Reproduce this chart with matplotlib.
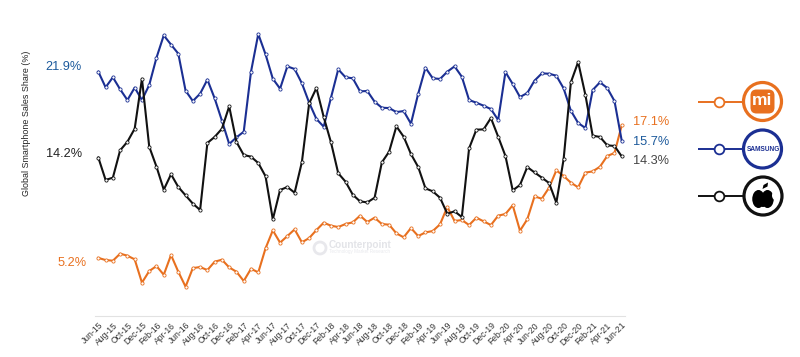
import matplotlib
matplotlib.use("Agg")
import matplotlib.pyplot as plt
from matplotlib.patches import Circle, Ellipse, FancyBboxPatch, Polygon

plt.rcParams['font.family'] = ['Liberation Sans', 'DejaVu Sans']

years = ["15", "16", "17", "18", "19", "20", "21"]
month_names = ["Jan", "Feb", "Mar", "Apr", "May", "Jun", "Jul", "Aug", "Sep", "Oct", "Nov", "Dec"]

samsung = [21.90, 20.50, 21.40, 20.32, 19.36, 20.47, 19.36, 20.71, 23.16, 25.16, 24.33, 23.52,
           20.20, 19.27, 19.93, 21.19, 19.51, 17.51, 15.42, 16.01, 16.52, 21.90, 25.28, 23.46,
           21.27, 20.38, 22.38, 22.14, 20.86, 19.12, 17.66, 16.97, 19.57, 22.11, 21.40, 21.31,
           20.14, 20.17, 19.21, 18.67, 18.64, 18.28, 18.37, 17.24, 19.93, 22.26, 21.31, 21.25,
           21.90, 22.38, 21.45, 19.36, 19.12, 18.85, 18.55, 17.57, 21.87, 20.80, 19.63, 19.99,
           21.10, 21.75, 21.72, 21.54, 20.41, 18.40, 17.30, 16.85, 20.26, 20.95, 20.44, 19.27,
           15.70]
apple = [14.20, 12.19, 12.40, 14.85, 15.62, 16.79, 21.27, 15.18, 13.38, 11.32, 12.70, 11.56,
         10.81, 10.07, 9.50, 15.51, 16.05, 16.79, 18.79, 15.60, 14.43, 14.28, 13.71, 12.52,
         8.66, 11.29, 11.56, 11.05, 13.80, 19.06, 20.44, 17.84, 15.57, 12.79, 12.04, 10.87,
         10.27, 10.18, 10.60, 13.77, 14.73, 17.00, 16.07, 14.52, 13.35, 11.44, 11.17, 10.60,
         9.17, 9.38, 8.87, 15.03, 16.70, 16.73, 17.75, 16.07, 14.34, 11.26, 11.74, 13.35,
         12.87, 12.40, 11.92, 10.15, 14.04, 20.95, 22.77, 19.81, 16.16, 16.05, 15.30, 15.24,
         14.30]
xiaomi = [5.20, 5.01, 4.95, 5.58, 5.40, 5.07, 2.98, 4.02, 4.47, 3.69, 5.46, 3.96,
          2.62, 4.29, 4.38, 4.11, 4.86, 5.04, 4.35, 3.96, 3.13, 4.23, 3.90, 6.06,
          7.67, 6.57, 7.16, 7.76, 6.60, 6.98, 7.70, 8.36, 8.09, 7.97, 8.24, 8.39,
          8.99, 8.42, 8.81, 8.24, 8.18, 7.40, 7.05, 7.88, 7.16, 7.49, 7.61, 8.21,
          9.77, 8.51, 8.60, 8.15, 8.81, 8.48, 8.15, 8.99, 9.14, 9.92, 7.64, 8.66,
          10.72, 10.51, 11.50, 13.05, 12.55, 11.95, 11.53, 12.85, 12.96, 13.38, 14.34, 14.61,
          17.10]

labels_all = []
for y in years:
    for m in month_names:
        labels_all.append(f"{m}-{y}")
months = labels_all[5:5 + len(samsung)]
tick_idx = list(range(0, len(months), 2))
tick_labels = [months[i] for i in tick_idx]

C_XIAOMI, C_SAMSUNG, C_APPLE = "#e8701f", "#1b2f93", "#111111"
C_BLUE_TXT = "#1c5a9c"

W, H = 800, 357
fig = plt.figure(figsize=(8, 3.57), dpi=100, facecolor="white")
ax = fig.add_axes([94.7 / W, (H - 315.9) / H, 530.7 / W, 289.9 / H])
ax.set_xlim(-0.5, 72.5)
ax.set_ylim(0, 26)
ax.patch.set_alpha(0)

x = list(range(len(months)))
for vals, col, z in ((xiaomi, C_XIAOMI, 3), (samsung, C_SAMSUNG, 4), (apple, C_APPLE, 5)):
    ax.plot(x, vals, color=col, lw=1.5, marker="o", ms=2.3, mfc="white", mec=col, mew=0.6,
            zorder=z, solid_joinstyle="round", clip_on=False)

for s in ("top", "right", "left"):
    ax.spines[s].set_visible(False)
ax.spines["bottom"].set_color("#e2e2e2")
ax.spines["bottom"].set_linewidth(0.8)
ax.set_yticks([])
ax.set_xticks(tick_idx)
ax.set_xticklabels(tick_labels, rotation=45, ha="right", va="top", rotation_mode="anchor",
                   fontsize=6.2, color="#333333")
ax.tick_params(axis="x", length=0, pad=3.5)

# Overlay in pixel coordinates for annotations and the legend
ov = fig.add_axes([0, 0, 1, 1], zorder=10)
ov.set_xlim(0, W)
ov.set_ylim(H, 0)
ov.axis("off")

ov.text(26.5, 123, "Global Smartphone Sales Share (%)", rotation=90, ha="center", va="center",
        fontsize=6.4, color="#222222")
ov.text(82, 66.5, "21.9%", ha="right", va="center", fontsize=9.2, color=C_BLUE_TXT)
ov.text(82, 154, "14.2%", ha="right", va="center", fontsize=9.2, color="#222222")
ov.text(87, 263, "5.2%", ha="right", va="center", fontsize=9.2, color=C_XIAOMI)
ov.text(633, 122, "17.1%", ha="left", va="center", fontsize=9.2, color=C_XIAOMI)
ov.text(633, 142, "15.7%", ha="left", va="center", fontsize=9.2, color=C_BLUE_TXT)
ov.text(633, 161.5, "14.3%", ha="left", va="center", fontsize=9.2, color="#444444")

# Watermark
ov.add_patch(Circle((320, 248), 6, fc="none", ec="#e8e8ec", lw=2))
ov.text(329, 245.5, "Counterpoint", ha="left", va="center", fontsize=7.2, fontweight="bold", color="#e3e4e8")
ov.text(329, 251.5, "Technology Market Research", ha="left", va="center", fontsize=3.3, color="#e8e9ed")

# Legend
for yc, xc, col in ((101.5, 762.5, C_XIAOMI), (149, 762.5, C_SAMSUNG), (196, 763, C_APPLE)):
    ov.plot([698, xc - 19], [yc, yc], color=col, lw=1.4, solid_capstyle="butt", zorder=1)
    ov.plot([719], [yc], marker="o", ms=7.0, mfc="white", mec=col, mew=1.3, zorder=2)
    ov.add_patch(Circle((xc, yc), 19, fc="white", ec=col, lw=2.3, zorder=3))

ov.add_patch(FancyBboxPatch((750.5, 89.5), 24, 24, boxstyle="round,pad=0,rounding_size=6",
                            fc=C_XIAOMI, ec="none", zorder=4))
ov.text(762.5, 100.5, "mi", ha="center", va="center", fontsize=12.5, fontweight="bold", color="white", zorder=5)
ov.text(763, 149.5, "SAMSUNG", ha="center", va="center", fontsize=4.7, fontweight="bold",
        color=C_SAMSUNG, zorder=5)

# Apple logo built from shapes
ov.add_patch(Ellipse((758.5, 199), 12.5, 18, fc="black", ec="none", zorder=4))
ov.add_patch(Ellipse((767.5, 199), 12.5, 18, fc="black", ec="none", zorder=4))
ov.add_patch(Ellipse((763, 200), 8, 14, fc="black", ec="none", zorder=4))
ov.add_patch(Ellipse((775.5, 195.5), 7, 9, fc="white", ec="none", zorder=5))
ov.add_patch(Polygon([(762.5, 189), (763.5, 185), (768, 182.5), (767.5, 186.5)], closed=True,
                     fc="black", ec="none", zorder=5))

fig.savefig("out.png", dpi=100, facecolor="white")
